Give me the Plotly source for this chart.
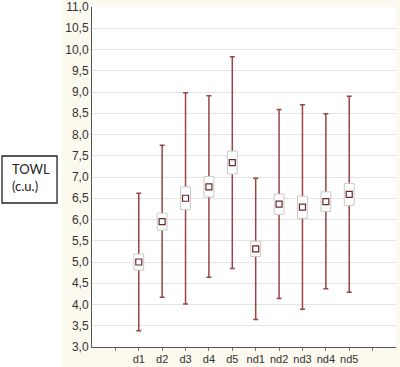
import plotly.graph_objects as go

categories = ["d1", "d2", "d3", "d4", "d5", "nd1", "nd2", "nd3", "nd4", "nd5"]
means = [5.00, 5.95, 6.50, 6.77, 7.34, 5.31, 6.36, 6.29, 6.42, 6.59]
se = [0.19, 0.20, 0.27, 0.24, 0.27, 0.18, 0.24, 0.26, 0.23, 0.26]
mins = [3.38, 4.17, 4.01, 4.64, 4.85, 3.65, 4.14, 3.89, 4.37, 4.29]
maxs = [6.62, 7.75, 8.98, 8.91, 9.83, 6.97, 8.59, 8.70, 8.49, 8.90]
y_ticks = [3.0 + 0.5 * i for i in range(17)]

xpos = list(range(len(categories)))
RED = "#9a4446"
CREAM = "#FCF9EF"

fig = go.Figure()

# whiskers (min-max) as error bars
fig.add_trace(go.Scatter(
    x=xpos, y=means, mode="markers",
    marker=dict(size=1, opacity=0),
    error_y=dict(type="data", symmetric=False,
                 array=[mx - m for mx, m in zip(maxs, means)],
                 arrayminus=[m - mn for m, mn in zip(means, mins)],
                 color=RED, thickness=1.5, width=2.5),
    hoverinfo="skip", showlegend=False))

# boxes (mean +/- se)
bx, by = [], []
hw = 0.21
for x, m, s in zip(xpos, means, se):
    bx += [x - hw, x + hw, x + hw, x - hw, x - hw, None]
    by += [m - s, m - s, m + s, m + s, m - s, None]
fig.add_trace(go.Scatter(
    x=bx, y=by, mode="lines", fill="toself", fillcolor="white",
    line=dict(color="#c9c9c9", width=1), hoverinfo="skip", showlegend=False))

# mean markers
fig.add_trace(go.Scatter(
    x=xpos, y=means, mode="markers",
    marker=dict(symbol="square", size=6, color="white",
                line=dict(color="#6b2a2c", width=1.2)),
    showlegend=False))

tickvals = [-1] + xpos + [len(categories)]
ticktext = [""] + categories + [""]
xr = [-2, len(categories) + 1]

fig.update_layout(
    width=400, height=367,
    margin=dict(l=92, r=4, t=7, b=20, autoexpand=False),
    paper_bgcolor=CREAM, plot_bgcolor="white",
    separators=",.",
    font=dict(family="Liberation Sans, Arial, sans-serif", size=11, color="#333"),
    xaxis=dict(range=xr, tickmode="array", tickvals=tickvals, ticktext=ticktext,
               showgrid=False, zeroline=False, showline=True, linecolor="#555",
               linewidth=1, ticks="outside", ticklen=3, tickcolor="#777",
               ticklabelstandoff=-1, automargin=False,
               tickfont=dict(size=11, color="#333")),
    yaxis=dict(range=[3, 11], tickmode="array", tickvals=y_ticks,
               ticktext=[f"{v:.1f}".replace(".", ",") for v in y_ticks],
               showgrid=True, gridcolor="#e4e4e4", gridwidth=1.2,
               zeroline=False, showline=True, linecolor="#555", linewidth=1,
               ticks="", automargin=False, tickfont=dict(size=12, color="#333")),
    xaxis2=dict(range=xr, overlaying="x", side="top", anchor="y",
                tickmode="array", tickvals=tickvals, showticklabels=False,
                ticks="inside", ticklen=3, tickcolor="#888", automargin=False,
                showgrid=False, zeroline=False, showline=True,
                linecolor="#c8c8c8", linewidth=1),
    yaxis2=dict(range=[3, 11], overlaying="y", side="right", anchor="x",
                tickmode="array", tickvals=y_ticks, showticklabels=False,
                ticks="inside", ticklen=3, tickcolor="#888", automargin=False,
                showgrid=False, zeroline=False, showline=True,
                linecolor="#6a6a6a", linewidth=2.5),
    shapes=[
        dict(type="rect", xref="paper", yref="paper", layer="below",
             x0=-0.31, x1=-0.0987, y0=-0.07, y1=1.03,
             fillcolor="white", line=dict(width=0)),
        dict(type="rect", xref="paper", yref="paper",
             x0=-0.296, x1=-0.115, y0=0.4235, y1=0.5618,
             fillcolor="white", line=dict(color="#222", width=1.3)),
    ],
    annotations=[
        dict(text="TOWL<br>(c.u.)", xref="paper", yref="paper",
             x=-0.2697, y=0.5, xanchor="left", yanchor="middle",
             align="left", showarrow=False,
             font=dict(family="Lato, Noto Sans, sans-serif", size=13, color="#222")),
    ],
)

fig.write_html("out.html", config={"displayModeBar": False},
               post_script="document.body.style.margin='0';document.body.style.overflow='hidden';")
